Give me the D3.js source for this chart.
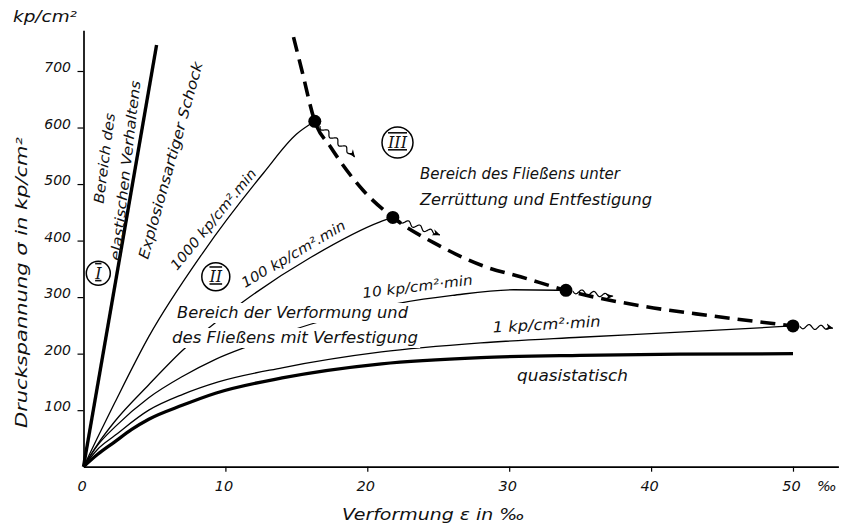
<!DOCTYPE html>
<html>
<head>
<meta charset="utf-8">
<script src="https://cdn.jsdelivr.net/npm/d3@7"></script>
<style>
    body { margin: 0; background: #fff; }
    svg text { font-family: "DejaVu Sans", sans-serif; font-style: italic; fill: #111; }
</style>
</head>
<body>
<svg id="chart" width="853" height="529"></svg>
<script>
// strain in per mille, stress in kp/cm2
const xTicks = [0, 10, 20, 30, 40, 50];
const yTicks = [100, 200, 300, 400, 500, 600, 700];

const elasticLine = [[0, 0], [5.15, 746]];
const rate1000 = [[0, 0], [1, 52], [2.2, 113], [4.6, 230], [8.4, 378], [12.7, 520], [15, 588], [16.3, 611]];
const rate100 = [[0, 0], [1, 40], [2.2, 80], [4.6, 145], [6.95, 205], [11.2, 291], [16, 370], [20.9, 433], [21.8, 441]];
const rate10 = [[0, 0], [1, 38], [2.2, 70], [4.6, 122], [7, 160], [9.3, 190], [11.8, 215], [16, 252], [22.2, 289], [26, 303], [30.3, 313], [34, 312]];
const rate1 = [[0, 0], [1, 31], [2.2, 55], [4.6, 100], [7, 128], [9.5, 150], [14, 175], [21, 203], [28, 219], [35, 229], [42, 238], [50, 249]];
const quasiStatic = [[0, 0], [1, 22], [2.2, 44], [3.4, 66], [4.6, 84], [7, 109], [9.3, 130], [14, 157], [21, 182], [28, 193], [35, 197], [42, 199], [50, 200]];

const failureBoundary = [[14.8, 760], [15.4, 700], [16.3, 611], [17.4, 566], [19.7, 489], [21.8, 441], [25, 392], [28.4, 353], [30.8, 336], [34, 312], [39.4, 284], [44.2, 267], [50, 249]];
const failurePoints = [[16.3, 611], [21.8, 441], [34, 312], [50, 249]];
const flowArrowEnds = [[19.1, 548], [25.1, 410], [37.3, 302], [52.8, 245]];

const svg = d3.select('#chart');
const x = d3.scaleLinear().domain([0, 53.2]).range([83.5, 838.4]);
const y = d3.scaleLinear().domain([0, 772]).range([466.7, 30.3]);

const line = d3.line().x(d => x(d[0])).y(d => y(d[1])).curve(d3.curveMonotoneX);

svg.append('defs').append('marker')
    .attr('id', 'ah')
    .attr('viewBox', '0 0 10 10')
    .attr('refX', 9).attr('refY', 5)
    .attr('markerWidth', 8).attr('markerHeight', 8)
    .attr('markerUnits', 'userSpaceOnUse')
    .attr('orient', 'auto')
    .append('path')
    .attr('d', 'M0,1 L10,5 L0,9 L3,5 z')
    .attr('fill', '#000');

// axes
const yAxis = svg.append('g')
    .attr('transform', `translate(${x(0)},0)`)
    .call(d3.axisLeft(y).tickValues(yTicks).tickSize(6).tickSizeOuter(0).tickPadding(6.5));
yAxis.select('.domain').attr('stroke', '#000').attr('stroke-width', 1.7);
yAxis.selectAll('.tick line').attr('stroke', '#000').attr('stroke-width', 1.2);
yAxis.selectAll('.tick text')
    .attr('dy', '0.6')
    .attr('fill', '#111')
    .style('font-size', '14px')
    .style('font-style', 'italic')
    .style('font-family', '"DejaVu Sans", sans-serif');

const xAxis = svg.append('g')
    .attr('transform', `translate(0,${y(0)})`)
    .call(d3.axisBottom(x).tickValues(xTicks).tickSize(5).tickSizeOuter(0));
xAxis.select('.domain').attr('stroke', '#000').attr('stroke-width', 1.8);
xAxis.selectAll('.tick line').attr('stroke', '#000').attr('stroke-width', 1.2)
    .attr('opacity', d => d === 0 ? 0 : 1);
xAxis.selectAll('.tick text')
    .attr('y', 13.8)
    .attr('x', -2)
    .attr('fill', '#111')
    .style('font-size', '14.5px')
    .style('font-style', 'italic')
    .style('font-family', '"DejaVu Sans", sans-serif');

svg.append('text')
    .attr('x', 817).attr('y', 491)
    .style('font-size', '14.5px')
    .text('‰');

// curves
const gCurves = svg.append('g').attr('fill', 'none').attr('stroke', '#000');
gCurves.append('path').datum(elasticLine).attr('d', line).attr('stroke-width', 3.4);
[rate1000, rate100, rate10, rate1].forEach(s => {
    gCurves.append('path').datum(s).attr('d', line).attr('stroke-width', 1.3);
});
gCurves.append('path').datum(quasiStatic).attr('d', line).attr('stroke-width', 3.3);

const gMask = svg.append('g');
const gText = svg.append('g');

gCurves.append('path').datum(failureBoundary).attr('d', line)
    .attr('stroke-width', 3.6)
    .attr('stroke-dasharray', '15,8');

// wavy flow arrows leaving the failure points
function wavePath(p0, p1, r) {
    const dx = p1[0] - p0[0], dy = p1[1] - p0[1];
    const len = Math.hypot(dx, dy);
    const ux = dx / len, uy = dy / len, nx = -uy, ny = ux;
    const pts = d3.range(0, 61).map(i => {
        const t = r + (len - r) * i / 60;
        const fade = Math.min(1, (len - t) / 10);
        const a = 2.3 * Math.sin((t - r) / 12 * Math.PI * 2) * fade;
        return [p0[0] + ux * t + nx * a, p0[1] + uy * t + ny * a];
    });
    return d3.line().curve(d3.curveBasis)(pts);
}

failurePoints.forEach((p, i) => {
    const p0 = [x(p[0]), y(p[1])];
    const p1 = [x(flowArrowEnds[i][0]), y(flowArrowEnds[i][1])];
    svg.append('path')
        .attr('d', wavePath(p0, p1, 7))
        .attr('fill', 'none')
        .attr('stroke', '#000')
        .attr('stroke-width', 1.2)
        .attr('marker-end', 'url(#ah)');
});

svg.append('g').selectAll('circle')
    .data(failurePoints)
    .join('circle')
    .attr('cx', d => x(d[0]))
    .attr('cy', d => y(d[1]))
    .attr('r', 6.5)
    .attr('fill', '#000');

// annotations
const notes = [
    { t: 'Bereich des', x: 103.5, y: 204, a: -82.8, s: 14, len: 91 },
    { t: 'elastischen Verhaltens', x: 120, y: 261, a: -83.5, s: 14, len: 181 },
    { t: 'Explosionsartiger Schock', x: 148, y: 260, a: -74.4, s: 14.5, len: 204 },
    { t: '1000 kp/cm².min', x: 177, y: 271, a: -50.5, s: 14, len: 126 },
    { t: '100 kp/cm².min', x: 245, y: 288, a: -30.5, s: 14, len: 118 },
    { t: '10 kp/cm²·min', x: 363, y: 298, a: -7, s: 14, len: 111 },
    { t: '1 kp/cm²·min', x: 493, y: 332.5, a: -3.2, s: 15, len: 108 },
    { t: 'quasistatisch', x: 517, y: 381, a: 0, s: 15, len: 111 },
    { t: 'Bereich der Verformung und', x: 177, y: 318, a: 0, s: 15.5, len: 231, mask: true },
    { t: 'des Fließens mit Verfestigung', x: 172, y: 343, a: 0, s: 15.5, len: 246, mask: true },
    { t: 'Bereich des Fließens unter', x: 420, y: 179, a: 0, s: 15, len: 200 },
    { t: 'Zerrüttung und Entfestigung', x: 420, y: 205, a: 0, s: 15, len: 232 }
];

notes.forEach(n => {
    const el = gText.append('text')
        .attr('transform', `translate(${n.x},${n.y}) rotate(${n.a})`)
        .attr('textLength', n.len)
        .attr('lengthAdjust', 'spacingAndGlyphs')
        .style('font-size', n.s + 'px')
        .text(n.t);
    if (n.mask) {
        const b = el.node().getBBox();
        gMask.append('rect')
            .attr('x', n.x + b.x - 2).attr('y', n.y + b.y - 1)
            .attr('width', b.width + 4).attr('height', b.height + 2)
            .attr('fill', '#fff');
    }
});

// region markers
const regions = [
    { t: 'I', cx: 98.3, cy: 273.3, r: 12 },
    { t: 'II', cx: 215.8, cy: 276.7, r: 14 },
    { t: 'III', cx: 397.5, cy: 142.5, r: 15.5 }
];
regions.forEach(m => {
    svg.append('circle')
        .attr('cx', m.cx).attr('cy', m.cy).attr('r', m.r)
        .attr('fill', '#fff').attr('stroke', '#000').attr('stroke-width', 1.5);
    svg.append('text')
        .attr('x', m.cx).attr('y', m.cy + 5.5)
        .attr('text-anchor', 'middle')
        .style('font-family', '"DejaVu Serif", serif')
        .style('font-size', '16px')
        .style('text-decoration', 'overline underline')
        .text(m.t);
});

// axis titles
svg.append('text')
    .attr('x', 13).attr('y', 22)
    .attr('textLength', 64)
    .attr('lengthAdjust', 'spacingAndGlyphs')
    .style('font-size', '16px')
    .text('kp/cm²');

svg.append('text')
    .attr('transform', 'translate(27,282.5) rotate(-90)')
    .attr('text-anchor', 'middle')
    .attr('textLength', 291)
    .attr('lengthAdjust', 'spacingAndGlyphs')
    .style('font-size', '16px')
    .text('Druckspannung σ in kp/cm²');

svg.append('text')
    .attr('x', 433.4).attr('y', 520)
    .attr('text-anchor', 'middle')
    .attr('textLength', 183)
    .attr('lengthAdjust', 'spacingAndGlyphs')
    .style('font-size', '16px')
    .text('Verformung ε in ‰');
</script>
</body>
</html>
